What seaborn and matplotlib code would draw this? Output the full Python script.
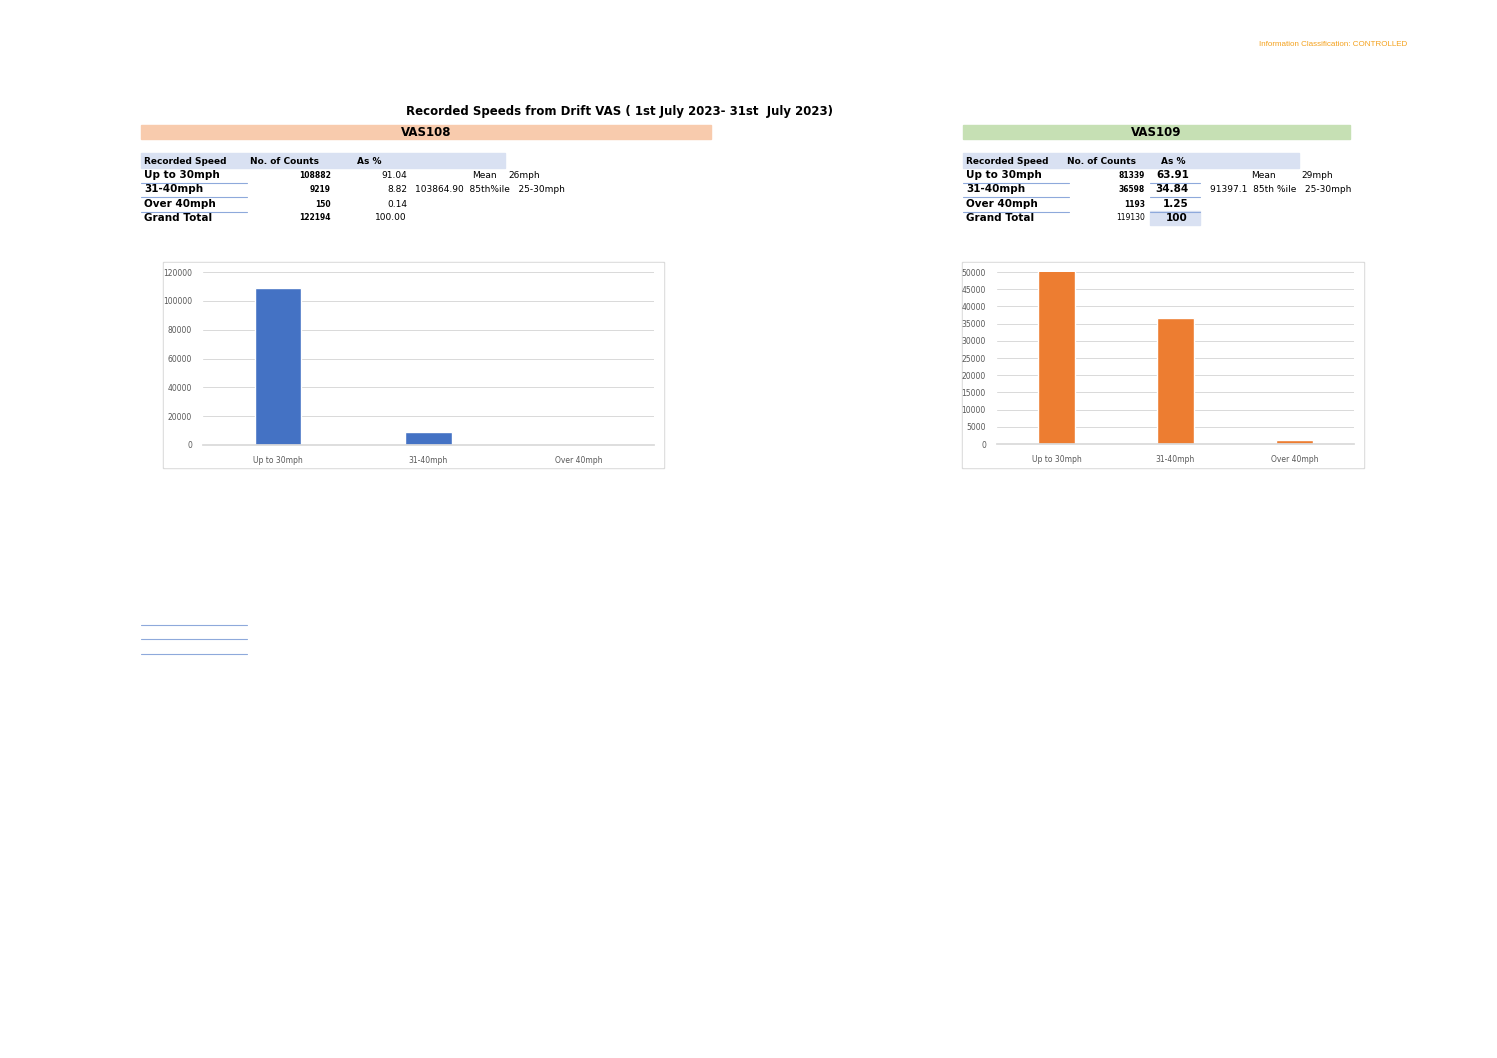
import matplotlib
matplotlib.use("Agg")
import matplotlib.pyplot as plt
import seaborn as sns
import pandas as pd

W, H = 1497, 1058

speed_labels = ["Up to 30mph", "31-40mph", "Over 40mph"]
vas108_counts = [108882, 9219, 150]
vas108_pct = ["91.04", "8.82", "0.14"]
vas108_total = "122194"
vas108_total_pct = "100.00"
vas109_counts = [81339, 36598, 1193]
vas109_pct = ["63.91", "34.84", "1.25"]
vas109_total = "119130"
vas109_total_pct = "100"
vas108_ticks = [0, 20000, 40000, 60000, 80000, 100000, 120000]
vas109_ticks = list(range(0, 50001, 5000))

sns.set_theme(style="white")
plt.rcParams["font.family"] = ["DejaVu Sans"]
plt.rcParams["text.color"] = "black"

fig = plt.figure(figsize=(W / 100, H / 100), dpi=100)


def fx(x):
    return x / W


def fy(y):
    return 1 - y / H


def txt(x, y, s, **kw):
    kw.setdefault("fontsize", 6.5)
    kw.setdefault("va", "center")
    fig.text(fx(x), fy(y), s, **kw)


def rect(x0, y0, x1, y1, color):
    fig.patches.append(plt.Rectangle((fx(x0), fy(y1)), fx(x1 - x0), (y1 - y0) / H,
                                     transform=fig.transFigure, color=color, zorder=-5))


def hline(x0, x1, y, color="#8EA9DB"):
    fig.add_artist(plt.Line2D([fx(x0), fx(x1)], [fy(y), fy(y)], color=color, lw=0.8,
                              transform=fig.transFigure))


txt(1407, 44, "Information Classification: CONTROLLED", ha="right", fontsize=5.8,
    color="#F4A11C", family="Liberation Sans")
txt(620, 111, "Recorded Speeds from Drift VAS ( 1st July 2023- 31st  July 2023)",
    ha="center", fontsize=8.5, weight="bold")

rows_y = [175, 189, 204, 218]


def table(x0, band_end, band_color, title, counts, pcts, total, total_pct,
          cnt_x, pct_x, extra, bold_pct):
    rect(x0, 125, band_end, 139, band_color)
    txt((x0 + band_end) / 2, 132, title, ha="center", fontsize=8.5, weight="bold")
    rect(x0, 153, extra, 168, "#D9E1F2")
    txt(x0 + 3, 161, "Recorded Speed", fontsize=6.5, weight="bold")
    txt(x0 + 109 if cnt_x < 400 else x0 + 104, 161, "No. of Counts", fontsize=6.5, weight="bold")
    txt(pct_x - 50 if bold_pct is False else pct_x - 28, 161, "As %", fontsize=6.5, weight="bold")
    for i, lab in enumerate(speed_labels):
        y = rows_y[i]
        txt(x0 + 3, y, lab, fontsize=7.5, weight="bold")
        hline(x0, x0 + 106, y + 7.5)
        txt(cnt_x, y, str(counts[i]), ha="right", fontsize=5.5, weight="bold")
        txt(pct_x, y, pcts[i], ha="right", fontsize=6.5 if not bold_pct else 7.5,
            weight="bold" if bold_pct else "normal")
    txt(x0 + 3, rows_y[3], "Grand Total", fontsize=7.5, weight="bold")
    txt(cnt_x, rows_y[3], total, ha="right", fontsize=5.5,
        weight="normal" if bold_pct else "bold")
    if bold_pct:
        rect(pct_x - 39, 211, pct_x + 11, 225, "#D9E1F2")
        for y in rows_y[:3]:
            hline(pct_x - 39, pct_x + 11, y + 7.5)
    txt(pct_x if not bold_pct else pct_x - 1, rows_y[3], total_pct, ha="right",
        fontsize=6.5 if not bold_pct else 7.5, weight="bold" if bold_pct else "normal")


table(141, 711, "#F8CBAD", "VAS108", vas108_counts, vas108_pct, vas108_total,
      vas108_total_pct, 331, 407, 505, False)
txt(497, 175, "Mean", ha="right")
txt(508, 175, "26mph")
txt(415, 189, "103864.90  85th%ile   25-30mph")

table(963, 1350, "#C6E0B4", "VAS109", vas109_counts, vas109_pct, vas109_total,
      vas109_total_pct, 1145, 1189, 1299, True)
txt(1276, 175, "Mean", ha="right")
txt(1301, 175, "29mph")
txt(1210, 189, "91397.1  85th %ile   25-30mph")

for y in [625, 639, 654]:
    hline(141, 247, y)


def chart(frame, plot, counts, ticks, color):
    rect(frame[0], frame[1], frame[2], frame[3], "#D9D9D9")
    rect(frame[0] + 1, frame[1] + 1, frame[2] - 1, frame[3] - 1, "white")
    ax = fig.add_axes([fx(plot[0]), fy(plot[3]), fx(plot[2] - plot[0]), (plot[3] - plot[1]) / H])
    ax.set_zorder(3)
    df = pd.DataFrame({"speed": speed_labels, "count": counts})
    sns.barplot(data=df, x="speed", y="count", color=color, saturation=1, width=0.31, ax=ax)
    ax.set_ylim(0, ticks[-1])
    ax.set_yticks(ticks)
    ax.yaxis.grid(True, color="#D9D9D9", lw=0.7)
    ax.set_axisbelow(True)
    for s in ["top", "right", "left"]:
        ax.spines[s].set_visible(False)
    ax.spines["bottom"].set_color("#D9D9D9")
    ax.tick_params(axis="both", labelsize=5.5, colors="#595959", length=0, pad=8)
    ax.set_xlabel("")
    ax.set_ylabel("")
    ax.set_facecolor("none")


chart((163, 262, 664, 468), (203, 272, 654, 445), vas108_counts, vas108_ticks, "#4472C4")
chart((962, 262, 1364, 468), (997, 272, 1354, 444), vas109_counts, vas109_ticks, "#ED7D31")

fig.savefig("out.png", dpi=100)
